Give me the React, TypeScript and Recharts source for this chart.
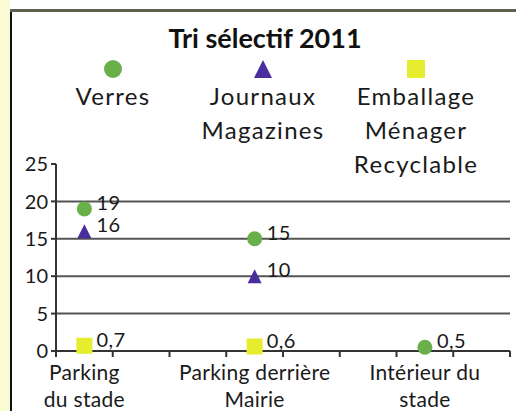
import { ScatterChart, Scatter, XAxis, YAxis, CartesianGrid } from "recharts";

const TITLE = "Tri sélectif 2011";
const CATEGORIES = [
  ["Parking", "du stade"],
  ["Parking derrière", "Mairie"],
  ["Intérieur du", "stade"],
];
// position of each category on the 0..8 axis
const CATEGORY_X = [0.5, 3.5, 6.5];
const X_TICKS = [0, 1, 2, 3, 4, 5, 6, 7, 8];
const Y_TICKS = [0, 5, 10, 15, 20, 25];
const GRID_VALUES = [5, 10, 15, 20];

const SERIES_NAMES = [["Verres"], ["Journaux", "Magazines"], ["Emballage", "Ménager", "Recyclable"]];
const verres = [19, 15, 0.5];
const journaux = [16, 10, null];
const emballage = [0.7, 0.6, null];

const GREEN = "#6ab04a";
const PURPLE = "#4a2e9e";
const YELLOW = "#e6ec2e";
const INK = "#1a1a1a";
const FONT = "Lato, 'DejaVu Sans', sans-serif";

const toPoints = (vals: (number | null)[]) =>
  vals
    .map((v, i) => (v == null ? null : { x: CATEGORY_X[i], y: v }))
    .filter((p): p is { x: number; y: number } => p !== null);

const fmt = (v: number) => String(v).replace(".", ",");

function marker(kind: string, cx: number, cy: number, s: number) {
  if (kind === "circle") return <circle cx={cx} cy={cy} r={s / 2} fill={GREEN} />;
  if (kind === "triangle")
    return (
      <polygon
        points={`${cx},${cy - s / 2} ${cx + s / 2},${cy + s / 2} ${cx - s / 2},${cy + s / 2}`}
        fill={PURPLE}
      />
    );
  return <rect x={cx - s / 2} y={cy - s / 2} width={s} height={s} fill={YELLOW} />;
}

const makeShape = (kind: string, size: number) => (props: any) => {
  const { cx, cy, payload } = props;
  return (
    <g>
      {marker(kind, cx, cy, size)}
      <text x={cx + 12} y={cy + 1} fontSize={20} fill={INK} fontFamily={FONT} letterSpacing={0.5}>
        {fmt(payload.y)}
      </text>
    </g>
  );
};

const XTick = (props: any) => {
  const { x, y, payload } = props;
  const v = payload.value;
  if (Number.isInteger(v)) {
    return <line x1={x} x2={x} y1={y} y2={y + 6} stroke="#333" strokeWidth={2} />;
  }
  const lines = CATEGORIES[CATEGORY_X.indexOf(v)] || [];
  return (
    <text x={x} y={y} textAnchor="middle" fontSize={21} fill={INK} fontFamily={FONT} letterSpacing={0.3}>
      {lines.map((l, i) => (
        <tspan key={i} x={x} dy={i === 0 ? 29 : 27}>
          {l}
        </tspan>
      ))}
    </text>
  );
};

export default function App() {
  const legendX = [113, 263, 416];
  const kinds = ["circle", "triangle", "square"];
  const allXTicks = [...X_TICKS, ...CATEGORY_X].sort((a, b) => a - b);

  return (
    <div style={{ position: "absolute", left: 0, top: 0, width: 516, height: 411, background: "#fff", overflow: "hidden" }}>
      <div style={{ position: "absolute", left: 0, top: 0, width: 10, height: 411, background: "#fafad4" }} />
      <div style={{ position: "absolute", left: 10, top: 10, width: 2, height: 401, background: "#111" }} />
      <div style={{ position: "absolute", left: 10, top: 9, width: 506, height: 3, background: "#5c6150" }} />

      <div style={{ position: "absolute", left: 0, top: 0 }}>
        <ScatterChart width={516} height={411} margin={{ top: 164, right: 6, bottom: 0, left: 0 }}>
          <CartesianGrid vertical={false} horizontalValues={GRID_VALUES} stroke="#555" strokeWidth={2} />
          <XAxis
            type="number"
            dataKey="x"
            domain={[0, 8]}
            ticks={allXTicks}
            interval={0}
            height={60}
            tickSize={0}
            tickMargin={0}
            tick={<XTick />}
            axisLine={{ stroke: "#333", strokeWidth: 2 }}
            allowDataOverflow
          />
          <YAxis
            type="number"
            dataKey="y"
            domain={[0, 25]}
            ticks={Y_TICKS}
            width={56}
            tickSize={5}
            tickMargin={3}
            interval={0}
            tick={{ fontSize: 20, fill: INK, fontFamily: FONT }}
            axisLine={{ stroke: "#333", strokeWidth: 2 }}
            tickLine={{ stroke: "#333", strokeWidth: 2 }}
          />
          <Scatter data={toPoints(verres)} shape={makeShape("circle", 15)} isAnimationActive={false} />
          <Scatter data={toPoints(journaux)} shape={makeShape("triangle", 14)} isAnimationActive={false} />
          <Scatter data={toPoints(emballage)} shape={makeShape("square", 16)} isAnimationActive={false} />
        </ScatterChart>
      </div>

      <svg width={516} height={180} style={{ position: "absolute", left: 0, top: 0 }}>
        <text x={265} y={48} textAnchor="middle" fontSize={27} fontWeight="bold" fill="#111" fontFamily={FONT}>
          {TITLE}
        </text>
        {SERIES_NAMES.map((lines, i) => (
          <g key={i}>
            {marker(kinds[i], legendX[i], 69, 18)}
            <text
              x={legendX[i]}
              y={105}
              textAnchor="middle"
              fontSize={24}
              fill={INK}
              fontFamily={FONT}
              letterSpacing={1.3}
            >
              {lines.map((l, j) => (
                <tspan key={j} x={legendX[i]} dy={j === 0 ? 0 : 34}>
                  {l}
                </tspan>
              ))}
            </text>
          </g>
        ))}
      </svg>
    </div>
  );
}
